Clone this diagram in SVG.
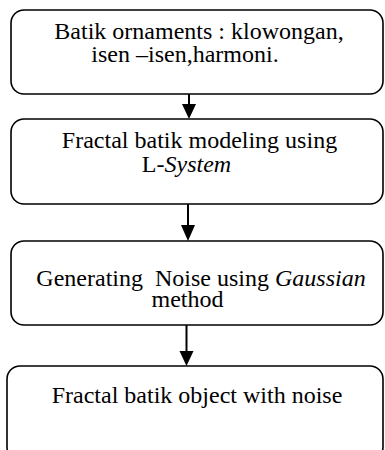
<svg xmlns="http://www.w3.org/2000/svg" width="385" height="450" viewBox="0 0 385 450">
<style>
.box{fill:#fff;stroke:#000;stroke-width:1.6}
.lbl{font-family:'Liberation Serif','Times New Roman',serif;font-size:24px;fill:#000;text-anchor:middle}
.it{font-style:italic}
.conn line{stroke:#000;stroke-width:2}
.conn polygon{fill:#000}
</style>
<rect width="385" height="450" fill="#fff"/>
<g id="node1">
<rect class="box" x="11" y="10" width="372" height="84" rx="13"/>
<text class="lbl" x="199" y="39">Batik ornaments : klowongan,</text>
<text class="lbl" x="185" y="62">isen –isen,harmoni.</text>
</g>
<g id="node2">
<rect class="box" x="11" y="119" width="372" height="85" rx="13"/>
<text class="lbl" x="199.5" y="148">Fractal batik modeling using</text>
<text class="lbl" x="186.5" y="172">L-<tspan class="it">System</tspan></text>
</g>
<g id="node3">
<rect class="box" x="11" y="241" width="372" height="84" rx="13"/>
<text class="lbl" x="201" y="286" xml:space="preserve">Generating  Noise using <tspan class="it">Gaussian</tspan></text>
<text class="lbl" x="187.5" y="307">method</text>
</g>
<g id="node4">
<rect class="box" x="7" y="366" width="376" height="94" rx="13"/>
<text class="lbl" x="197" y="403">Fractal batik object with noise</text>
</g>
<g id="connectors" class="conn">
<line x1="189" y1="94" x2="189" y2="105"/>
<polygon points="182,104 196,104 189,119"/>
<line x1="188" y1="204" x2="188" y2="226"/>
<polygon points="181,225 195,225 188,241"/>
<line x1="186.5" y1="325" x2="186.5" y2="352"/>
<polygon points="179.5,351 193.5,351 186.5,366"/>
</g>
</svg>
